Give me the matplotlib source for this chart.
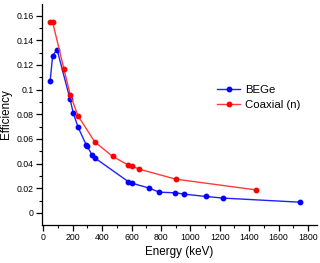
import matplotlib.pyplot as plt
from matplotlib.ticker import MultipleLocator

plt.rcParams['font.family'] = ['Liberation Sans', 'DejaVu Sans']

# BEGe detector
bege_e = [46, 63, 93, 181, 204, 236, 292, 298, 333, 351, 577, 602, 720, 788, 897, 958, 1107, 1223, 1744]
bege_eff = [0.107, 0.1276, 0.1325, 0.0924, 0.0807, 0.0695, 0.0550, 0.0540, 0.0466, 0.0445,
            0.0254, 0.0241, 0.0201, 0.0168, 0.0163, 0.0152, 0.0133, 0.0120, 0.0087]

# Coaxial (n) detector
coax_e = [46, 63, 140, 183, 236, 349, 471, 575, 602, 652, 899, 1443]
coax_eff = [0.1547, 0.1547, 0.1165, 0.0957, 0.0786, 0.0577, 0.0458, 0.0390, 0.0380, 0.0355, 0.0274, 0.0187]

fig = plt.figure(figsize=(3.2, 2.63), dpi=100)
ax = fig.add_axes([0.131, 0.146, 0.859, 0.839])

ax.plot(bege_e, bege_eff, color='#2020ff', lw=1, marker='o', ms=3.2, mfc='#0000ff', mec='#0000ff',
        label='BEGe')
ax.plot(coax_e, coax_eff, color='#ff3a3a', lw=1, marker='o', ms=3.2, mfc='#ff0000', mec='#ff0000',
        label='Coaxial (n)')

ax.set_xlim(-10, 1860)
ax.set_ylim(-0.0095, 0.1695)
ax.xaxis.set_major_locator(MultipleLocator(200))
ax.xaxis.set_minor_locator(MultipleLocator(100))
ax.yaxis.set_minor_locator(MultipleLocator(0.01))
ax.set_yticks([0, 0.02, 0.04, 0.06, 0.08, 0.1, 0.12, 0.14, 0.16])
ax.set_yticklabels(['0', '0.02', '0.04', '0.06', '0.08', '0.1', '0.12', '0.14', '0.16'])

for s in ['top', 'right']:
    ax.spines[s].set_visible(False)
for s in ['left', 'bottom']:
    ax.spines[s].set_linewidth(0.9)

ax.tick_params(which='major', length=4, width=0.9, labelsize=6.3, pad=2)
ax.tick_params(which='minor', length=2, width=0.8)

ax.set_xlabel('Energy (keV)', fontsize=8.4, labelpad=3)
ax.set_ylabel('Efficiency', fontsize=8.4, labelpad=3)

ax.legend(loc='upper left', bbox_to_anchor=(0.621, 0.655), frameon=False, fontsize=8.2,
          handlelength=2.0, handletextpad=0.45, borderaxespad=0, labelspacing=0.45)

fig.savefig('out.png', dpi=100)
